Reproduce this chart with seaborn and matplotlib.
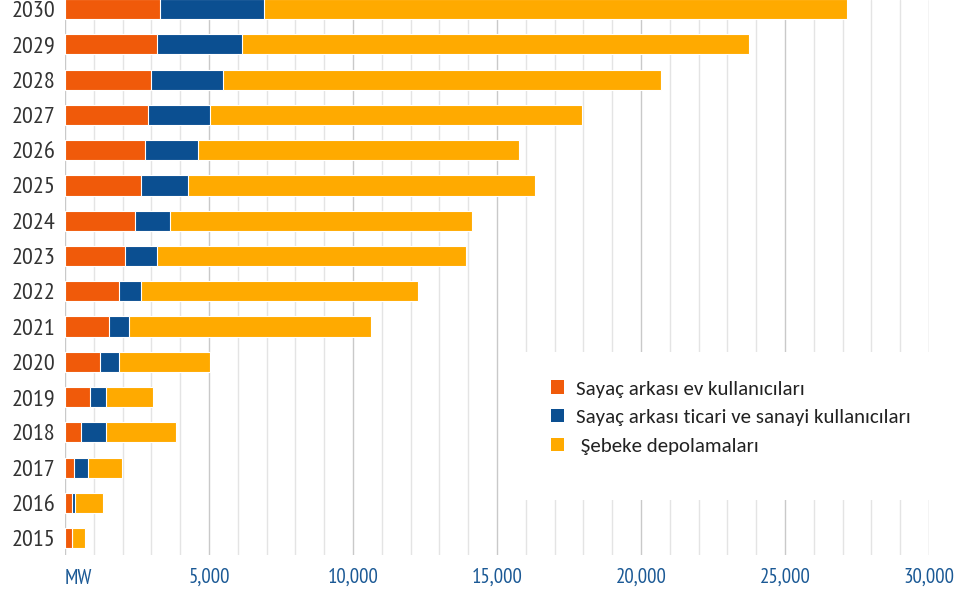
import matplotlib
matplotlib.use("Agg")
import matplotlib.pyplot as plt
from matplotlib import font_manager
from matplotlib.patches import Patch, Rectangle
import seaborn as sns
import pandas as pd
import numpy as np

years = [2015, 2016, 2017, 2018, 2019, 2020, 2021, 2022, 2023, 2024, 2025, 2026, 2027, 2028, 2029, 2030]
ev = [230, 245, 325, 555, 880, 1215, 1530, 1875, 2080, 2430, 2640, 2780, 2880, 2990, 3190, 3300]
ticari = [15, 90, 460, 880, 555, 660, 690, 765, 1110, 1220, 1630, 1840, 2150, 2500, 2960, 3610]
sebeke = [440, 985, 1195, 2405, 1635, 3160, 8400, 9620, 10730, 10480, 12050, 11140, 12920, 15200, 17600, 20240]
labels = ["Sayaç arkası ev kullanıcıları", "Sayaç arkası ticari ve sanayi kullanıcıları", " Şebeke depolamaları"]
colors = ["#F05A0A", "#0B4F91", "#FFAA00"]
xticks = [0, 5000, 10000, 15000, 20000, 25000, 30000]
xticklabels = ["", "5,000", "10,000", "15,000", "20,000", "25,000", "30,000"]

sns.set_style("white")
avail = {f.name for f in font_manager.fontManager.ttflist}


def pick(cands):
    for c in cands:
        if c in avail:
            return c
    return "DejaVu Sans"


narrow = pick(["Myriad Pro Condensed", "PT Sans Narrow", "Roboto Condensed", "Fira Sans Condensed",
               "Liberation Sans Narrow", "Archivo Narrow", "Encode Sans Condensed", "Open Sans Condensed"])
legfont = pick(["Carlito", "Calibri", "Open Sans", "Noto Sans"])
plt.rcParams["font.family"] = [narrow, "DejaVu Sans"]

df = pd.DataFrame({"year": [str(y) for y in years], "ev": ev, "ticari": ticari, "sebeke": sebeke})
df["c1"] = df["ev"]
df["c2"] = df["ev"] + df["ticari"]
df["c3"] = df["c2"] + df["sebeke"]
order = [str(y) for y in years[::-1]]

fig = plt.figure(figsize=(9.64, 5.99), dpi=100)
ax = fig.add_axes([65/964, 44/599, (929-65)/964, 555/599])

for col, c in zip(["c3", "c2", "c1"], colors[::-1]):
    sns.barplot(data=df, x=col, y="year", order=order, color=c, width=0.57,
                errorbar=None, edgecolor="white", linewidth=0.8, ax=ax, saturation=1)

ax.set_xlim(0, 30000)
ax.set_ylim(15.48, -0.26)
ax.set_xlabel("")
ax.set_ylabel("")
for s in ax.spines.values():
    s.set_visible(False)
ax.set_xticks(xticks)
ax.set_xticklabels(xticklabels)
ax.set_xticks(np.arange(0, 30001, 1000), minor=True)
ax.set_axisbelow(True)
ax.grid(axis="x", which="minor", color="#e4e4e4", lw=1)
ax.grid(axis="x", which="major", color="#c9c9c9", lw=1)
ax.grid(axis="y", visible=False)
ax.tick_params(axis="both", which="both", length=0)
ax.tick_params(axis="y", pad=7)
ax.tick_params(axis="x", pad=9)
for t in ax.get_yticklabels():
    t.set_fontfamily([narrow, "DejaVu Sans"])
    t.set_fontsize(17.5)
    t.set_color("#333333")
for t in ax.get_xticklabels():
    t.set_fontfamily([narrow, "DejaVu Sans"])
    t.set_fontsize(15)
    t.set_color("#1b5995")
fig.text(65/964, 1-579/599, "MW", ha="left", va="center", fontsize=15,
         color="#1b5995", family=[narrow, "DejaVu Sans"])

ax.add_patch(Rectangle((520/964, 1-500/599), 440/964, 148/599, transform=fig.transFigure,
                       facecolor="white", edgecolor="none", zorder=0.9, clip_on=False))
handles = [Patch(facecolor=c, edgecolor="none") for c in colors]
fig.legend(handles, labels, loc="upper left", bbox_to_anchor=(541/964, 1-370/599),
           frameon=False, prop={"family": [legfont, "DejaVu Sans"], "size": 15},
           handlelength=0.62, handleheight=0.62,
           labelspacing=0.55, borderpad=0, handletextpad=0.55, labelcolor="#222222")

fig.savefig("out.png", dpi=100)
